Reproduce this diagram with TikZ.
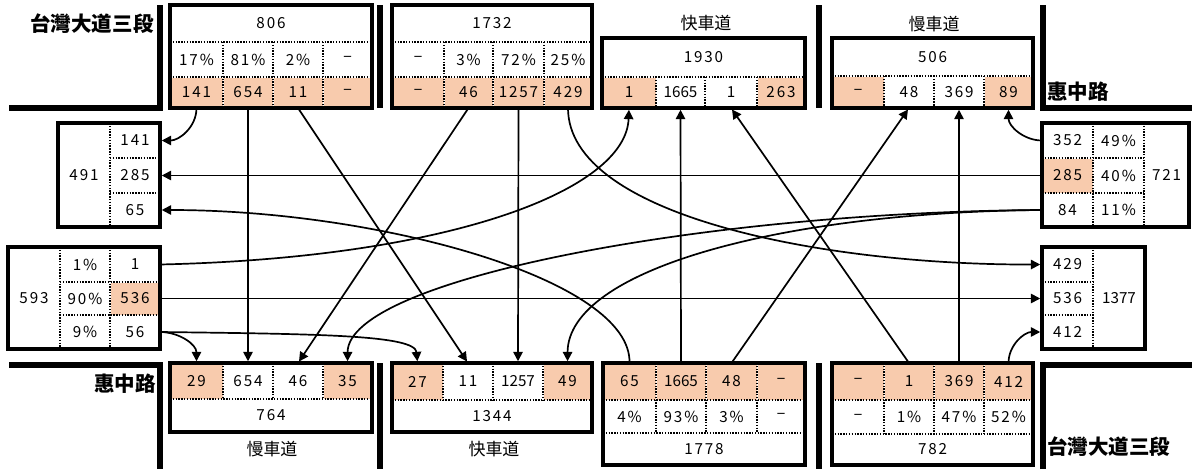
\documentclass[tikz,border=0pt]{standalone}
\usepackage{fontspec}
\setmainfont{Noto Sans CJK JP}
\newfontfamily\numfont{Noto Sans CJK JP}[LetterSpace=12]
\newfontfamily\narrowfont{Noto Sans CJK JP}
\usetikzlibrary{arrows.meta}
\definecolor{org}{HTML}{F8CBAD}
\newcommand\cellnode[7]{\node[cellsty,fill=#6,minimum width={(#4-#2)*0.03cm},minimum height={(#5-#3)*0.03cm}] (#1) at ({(#2+#4)/2},{(#3+#5)/2}) {#7};}
\newcommand\boxnode[5]{\node[boxsty,minimum width={(#4-#2)*0.03cm},minimum height={(#5-#3)*0.03cm}] (#1) at ({(#2+#4)/2},{(#3+#5)/2}) {};}
\begin{document}
\begin{tikzpicture}[x=0.03cm,y=-0.03cm,
  cellsty/.style={draw=none,inner sep=0pt,outer sep=0pt,font=\numfont\fontsize{13pt}{15pt}\selectfont},
  boxsty/.style={draw=black,line width=3.4pt,inner sep=0pt,outer sep=0pt,fill=none},
  sepline/.style={line width=1.2pt,preaction={draw=white,solid},draw=black,dash pattern=on 1.2pt off 1.2pt},
  road/.style={line width=5.2pt,draw=black},
  conn/.style={-{Triangle[length=8pt,width=8pt]},line width=1.45pt,shorten >=1.5pt},
  boldlab/.style={font=\fontsize{17.5pt}{20pt}\selectfont\bfseries,inner sep=0pt},
  lanelab/.style={font=\fontsize{14.5pt}{17pt}\selectfont,inner sep=0pt}]
\useasboundingbox (0,0) rectangle (1192,469);
% ---------- top boxes ----------
\cellnode{b1h}{170}{5}{372}{42}{white}{806}
\cellnode{b1p1}{170}{42}{223}{77}{white}{17\%}
\cellnode{b1p2}{223}{42}{273}{77}{white}{81\%}
\cellnode{b1p3}{273}{42}{323}{77}{white}{2\%}
\cellnode{b1p4}{323}{42}{372}{77}{white}{−}
\cellnode{b1c1}{170}{77}{223}{108}{org}{141}
\cellnode{b1c2}{223}{77}{273}{108}{org}{654}
\cellnode{b1c3}{273}{77}{323}{108}{org}{11}
\cellnode{b1c4}{323}{77}{372}{108}{org}{−}
\cellnode{b2h}{392}{5}{592}{42}{white}{1732}
\cellnode{b2p1}{392}{42}{444}{77}{white}{−}
\cellnode{b2p2}{444}{42}{493}{77}{white}{3\%}
\cellnode{b2p3}{493}{42}{544}{77}{white}{72\%}
\cellnode{b2p4}{544}{42}{592}{77}{white}{25\%}
\cellnode{b2c1}{392}{77}{444}{108}{org}{−}
\cellnode{b2c2}{444}{77}{493}{108}{org}{46}
\cellnode{b2c3}{493}{77}{544}{108}{org}{1257}
\cellnode{b2c4}{544}{77}{592}{108}{org}{429}
\cellnode{b3h}{602}{38}{805}{77}{white}{1930}
\cellnode{b3c1}{602}{77}{656}{108}{org}{1}
\cellnode{b3c2}{656}{77}{705}{108}{white}{\narrowfont 1665}
\cellnode{b3c3}{705}{77}{757}{108}{white}{1}
\cellnode{b3c4}{757}{77}{805}{108}{org}{263}
\cellnode{b4h}{832}{38}{1033}{76}{white}{506}
\cellnode{b4c1}{832}{76}{884}{108}{org}{−}
\cellnode{b4c2}{884}{76}{934}{108}{white}{48}
\cellnode{b4c3}{934}{76}{984}{108}{white}{369}
\cellnode{b4c4}{984}{76}{1033}{108}{org}{89}
% ---------- bottom boxes ----------
\cellnode{c1c1}{170}{363}{223}{399}{org}{29}
\cellnode{c1c2}{223}{363}{273}{399}{white}{654}
\cellnode{c1c3}{273}{363}{323}{399}{white}{46}
\cellnode{c1c4}{323}{363}{372}{399}{org}{35}
\cellnode{c1t}{170}{399}{372}{432}{white}{764}
\cellnode{c2c1}{392}{363}{443}{400}{org}{27}
\cellnode{c2c2}{443}{363}{493}{400}{white}{11}
\cellnode{c2c3}{493}{363}{543}{400}{white}{\narrowfont 1257}
\cellnode{c2c4}{543}{363}{592}{400}{org}{49}
\cellnode{c2t}{392}{400}{592}{432}{white}{1344}
\cellnode{c3c1}{603}{363}{656}{400}{org}{65}
\cellnode{c3c2}{656}{363}{706}{400}{org}{\narrowfont 1665}
\cellnode{c3c3}{706}{363}{757}{400}{org}{48}
\cellnode{c3c4}{757}{363}{805}{400}{org}{−}
\cellnode{c3p1}{603}{400}{656}{433}{white}{4\%}
\cellnode{c3p2}{656}{400}{706}{433}{white}{93\%}
\cellnode{c3p3}{706}{400}{757}{433}{white}{3\%}
\cellnode{c3p4}{757}{400}{805}{433}{white}{−}
\cellnode{c3t}{603}{433}{805}{465}{white}{1778}
\cellnode{c4c1}{832}{363}{884}{400}{org}{−}
\cellnode{c4c2}{884}{363}{934}{400}{org}{1}
\cellnode{c4c3}{934}{363}{984}{400}{org}{369}
\cellnode{c4c4}{984}{363}{1033}{400}{org}{412}
\cellnode{c4p1}{832}{400}{884}{434}{white}{−}
\cellnode{c4p2}{884}{400}{934}{434}{white}{1\%}
\cellnode{c4p3}{934}{400}{984}{434}{white}{47\%}
\cellnode{c4p4}{984}{400}{1033}{434}{white}{52\%}
\cellnode{c4t}{832}{434}{1033}{465}{white}{782}
% ---------- left boxes ----------
\cellnode{l1t}{58}{123}{110}{227}{white}{491}
\cellnode{l1c1}{110}{123}{160}{158}{white}{141}
\cellnode{l1c2}{110}{158}{160}{193}{white}{285}
\cellnode{l1c3}{110}{193}{160}{227}{white}{65}
\cellnode{l2t}{8}{247}{60}{349}{white}{593}
\cellnode{l2p1}{60}{247}{110}{282}{white}{1\%}
\cellnode{l2p2}{60}{282}{110}{315}{white}{90\%}
\cellnode{l2p3}{60}{315}{110}{349}{white}{9\%}
\cellnode{l2c1}{110}{247}{160}{282}{white}{1}
\cellnode{l2c2}{110}{282}{160}{315}{org}{536}
\cellnode{l2c3}{110}{315}{160}{349}{white}{56}
% ---------- right boxes ----------
\cellnode{r1c1}{1042}{123}{1093}{158}{white}{352}
\cellnode{r1c2}{1042}{158}{1093}{193}{org}{285}
\cellnode{r1c3}{1042}{193}{1093}{227}{white}{84}
\cellnode{r1p1}{1093}{123}{1144}{158}{white}{49\%}
\cellnode{r1p2}{1093}{158}{1144}{193}{white}{40\%}
\cellnode{r1p3}{1093}{193}{1144}{227}{white}{11\%}
\cellnode{r1t}{1144}{123}{1189}{227}{white}{721}
\cellnode{r2c1}{1042}{247}{1093}{282}{white}{429}
\cellnode{r2c2}{1042}{282}{1093}{315}{white}{536}
\cellnode{r2c3}{1042}{315}{1093}{349}{white}{412}
\cellnode{r2t}{1093}{247}{1145}{349}{white}{\narrowfont 1377}
% ---------- dashed separators ----------
\draw[sepline] (170,42)--(372,42) (170,77)--(372,77) (223,42)--(223,108) (273,42)--(273,108) (323,42)--(323,108);
\draw[sepline] (392,42)--(592,42) (392,77)--(592,77) (444,42)--(444,108) (493,42)--(493,108) (544,42)--(544,108);
\draw[sepline] (602,77)--(805,77) (656,77)--(656,108) (705,77)--(705,108) (757,77)--(757,108);
\draw[sepline] (832,76)--(1033,76) (884,76)--(884,108) (934,76)--(934,108) (984,76)--(984,108);
\draw[sepline] (170,399)--(372,399) (223,363)--(223,399) (273,363)--(273,399) (323,363)--(323,399);
\draw[sepline] (392,400)--(592,400) (443,363)--(443,400) (493,363)--(493,400) (543,363)--(543,400);
\draw[sepline] (603,400)--(805,400) (603,433)--(805,433) (656,363)--(656,433) (706,363)--(706,433) (757,363)--(757,433);
\draw[sepline] (832,400)--(1033,400) (832,434)--(1033,434) (884,363)--(884,434) (934,363)--(934,434) (984,363)--(984,434);
\draw[sepline] (110,123)--(110,227) (110,158)--(160,158) (110,193)--(160,193);
\draw[sepline] (60,247)--(60,349) (110,247)--(110,349) (60,282)--(160,282) (60,315)--(160,315);
\draw[sepline] (1093,123)--(1093,227) (1144,123)--(1144,227) (1042,158)--(1144,158) (1042,193)--(1144,193);
\draw[sepline] (1093,247)--(1093,349) (1042,282)--(1093,282) (1042,315)--(1093,315);
% ---------- box outlines ----------
\boxnode{B1}{170}{5}{372}{108}
\boxnode{B2}{392}{5}{592}{108}
\boxnode{B3}{602}{38}{805}{108}
\boxnode{B4}{832}{38}{1033}{108}
\boxnode{C1}{170}{363}{372}{432}
\boxnode{C2}{392}{363}{592}{432}
\boxnode{C3}{603}{363}{805}{465}
\boxnode{C4}{832}{363}{1033}{465}
\boxnode{L1}{58}{123}{160}{227}
\boxnode{L2}{8}{247}{160}{349}
\boxnode{R1}{1042}{123}{1189}{227}
\boxnode{R2}{1042}{247}{1145}{349}
% ---------- road edges ----------
\draw[road] (9,108)--(160,108)--(160,5);
\draw[road] (380,5)--(380,108);
\draw[road] (819,5)--(819,108);
\draw[road] (1043,5)--(1043,108)--(1192,108);
\draw[road] (9,365)--(160,365)--(160,469);
\draw[road] (380,363)--(380,469);
\draw[road] (819,363)--(819,469);
\draw[road] (1043,469)--(1043,365)--(1192,365);
% ---------- labels ----------
\node[boldlab] (tl) at (92,24) {台灣大道三段};
\node[boldlab,anchor=west] (tr) at (1047,92) {惠中路};
\node[boldlab,anchor=east] (bl) at (156,384) {惠中路};
\node[boldlab,anchor=west] (br) at (1047,447) {台灣大道三段};
\node[lanelab] (lt1) at (706,23) {快車道};
\node[lanelab] (lt2) at (934,24) {慢車道};
\node[lanelab] (lb1) at (272,449) {慢車道};
\node[lanelab] (lb2) at (494,449) {快車道};
% ---------- connectors ----------
\draw[conn] (b1c1.south) to[out=-90,in=0] (l1c1.east);
\draw[conn] (b1c2.south) -- (c1c2.north);
\draw[conn] (b1c3.south) -- (c2c2.north);
\draw[conn] (b2c2.south) -- (c1c3.north);
\draw[conn] (b2c3.south) -- (c2c3.north);
\draw[conn] (b2c4.south) .. controls (568,215) and (820,265) .. (r2c1.west);
\draw[conn] (l2c1.east) .. controls (450,258) and (626,190) .. (b3c1.south);
\draw[conn] (l2c2.east) -- (r2c2.west);
\draw[conn] (l2c3.east) to[out=0,in=90] (c1c1.north);
\draw[conn] (l2c3.east) .. controls (320,334) and (415,335) .. (c2c1.north);
\draw[conn] (r1c1.west) to[out=180,in=-90] (b4c4.south);
\draw[conn] (r1c2.west) -- (l1c2.east);
\draw[conn] (r1c3.west) .. controls (700,212) and (348,280) .. (c1c4.north);
\draw[conn] (r1c3.west) .. controls (780,212) and (568,270) .. (c2c4.north);
\draw[conn] (c3c1.north) .. controls (632,280) and (380,210) .. (l1c3.east);
\draw[conn] (c3c2.north) -- (b3c2.south);
\draw[conn] (c3c3.north) -- (b4c2.south);
\draw[conn] (c4c2.north) -- (b3c3.south);
\draw[conn] (c4c3.north) -- (b4c3.south);
\draw[conn] (c4c4.north) to[out=90,in=180] (r2c3.west);
\end{tikzpicture}
\end{document}
